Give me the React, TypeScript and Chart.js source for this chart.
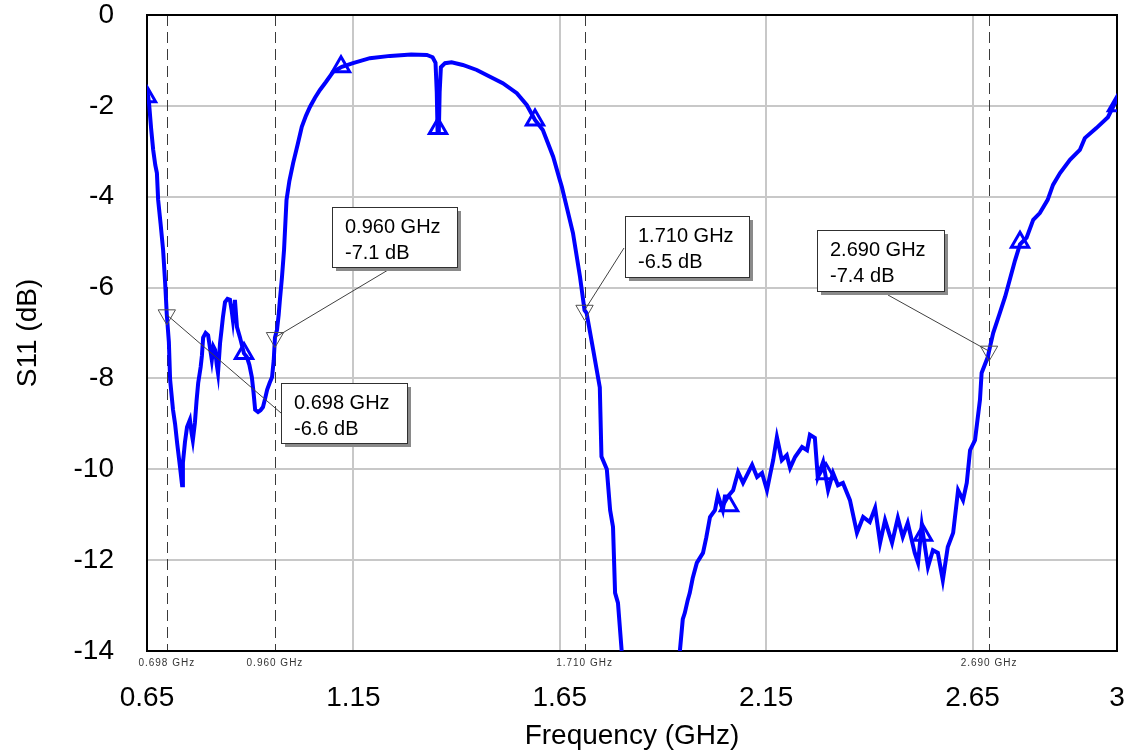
import React, { useEffect, useRef } from "react";
import { Chart, registerables } from "chart.js";

Chart.register(...registerables);

const FONT = "'Liberation Sans', Arial, Helvetica, sans-serif";

// ---- S11 trace (GHz, dB) ----
const freqGHz = [
  0.65, 0.655, 0.66, 0.665, 0.67, 0.674, 0.677, 0.683, 0.689, 0.694,
  0.698, 0.703, 0.706, 0.713, 0.718, 0.723, 0.73, 0.735, 0.737, 0.742,
  0.747, 0.754, 0.758, 0.761, 0.766, 0.77, 0.774, 0.78, 0.783, 0.786,
  0.792, 0.798, 0.803, 0.807, 0.811, 0.815, 0.819, 0.822, 0.827, 0.831,
  0.834, 0.839, 0.845, 0.851, 0.855, 0.858, 0.861, 0.863, 0.868, 0.875,
  0.885, 0.892, 0.898, 0.904, 0.908, 0.912, 0.919, 0.925, 0.931, 0.936,
  0.941, 0.947, 0.953, 0.957, 0.96, 0.965, 0.969, 0.972, 0.977, 0.982,
  0.988, 0.995, 1.004, 1.015, 1.025, 1.035, 1.045, 1.057, 1.069, 1.083,
  1.101, 1.122, 1.149, 1.19, 1.239, 1.29, 1.328, 1.342, 1.349, 1.352,
  1.354, 1.357, 1.359, 1.362, 1.372, 1.388, 1.415, 1.449, 1.481, 1.512,
  1.546, 1.57, 1.59, 1.609, 1.634, 1.65, 1.655, 1.682, 1.699, 1.71,
  1.715, 1.731, 1.747, 1.751, 1.764, 1.772, 1.779, 1.784, 1.791, 1.8,
  1.83, 1.87, 1.92, 1.941, 1.948, 1.953, 1.96, 1.965, 1.972, 1.982,
  1.997, 2.005, 2.014, 2.026, 2.033, 2.045, 2.05, 2.057, 2.07, 2.082,
  2.094, 2.105, 2.116, 2.128, 2.14, 2.152, 2.16, 2.167, 2.176, 2.188,
  2.2, 2.208, 2.22, 2.237, 2.249, 2.256, 2.268, 2.275, 2.288, 2.3,
  2.312, 2.324, 2.336, 2.353, 2.37, 2.385, 2.401, 2.414, 2.426, 2.438,
  2.455, 2.469, 2.481, 2.493, 2.51, 2.518, 2.527, 2.542, 2.554, 2.566,
  2.578, 2.59, 2.603, 2.615, 2.627, 2.636, 2.644, 2.656, 2.668, 2.672,
  2.687, 2.69, 2.7, 2.716, 2.729, 2.741, 2.753, 2.765, 2.781, 2.797,
  2.813, 2.832, 2.845, 2.862, 2.886, 2.91, 2.922, 2.95, 2.978, 3.0,
];
const s11dB = [
  -1.6, -1.95, -2.5, -2.97, -3.3, -3.48, -4.07, -4.6, -5.17, -5.9,
  -6.6, -7.2, -8.03, -8.69, -9.0, -9.42, -9.95, -10.35, -9.86, -9.4,
  -9.07, -8.91, -9.2, -9.36, -8.98, -8.5, -8.1, -7.75, -7.5, -7.1,
  -7.0, -7.05, -7.35, -7.59, -7.3, -7.37, -7.7, -7.88, -7.22, -6.9,
  -6.65, -6.32, -6.25, -6.27, -6.5, -6.71, -6.4, -6.27, -6.87, -7.09,
  -7.45, -7.53, -7.7, -7.97, -8.3, -8.69, -8.74, -8.7, -8.63, -8.45,
  -8.25, -8.1, -7.97, -7.6, -7.1, -6.93, -6.6, -6.27, -5.77, -5.17,
  -4.07, -3.65, -3.26, -2.85, -2.46, -2.22, -2.02, -1.82, -1.65, -1.48,
  -1.25, -1.14, -1.06, -0.95, -0.9, -0.87, -0.88, -0.93, -1.05, -1.7,
  -2.6, -2.6, -1.7, -1.15, -1.06, -1.04, -1.1, -1.21, -1.36, -1.5,
  -1.72, -1.98, -2.31, -2.53, -3.12, -3.63, -3.78, -4.8, -5.76, -6.5,
  -6.56, -7.37, -8.2, -9.72, -10.0, -10.9, -11.27, -12.72, -12.94, -14.0,
  -15.5, -16.5, -15.0, -14.0, -13.3, -13.16, -12.88, -12.72, -12.4, -12.06,
  -11.84, -11.5, -11.05, -10.9, -10.57, -10.9, -10.6, -10.6, -10.46, -10.06,
  -10.3, -10.1, -9.9, -10.17, -10.08, -10.46, -10.1, -9.8, -9.29, -9.8,
  -9.69, -9.97, -9.73, -9.51, -9.58, -9.24, -9.31, -10.17, -9.84, -10.46,
  -10.08, -10.35, -10.3, -10.68, -11.4, -11.05, -11.16, -10.85, -11.62, -11.12,
  -11.62, -11.07, -11.49, -11.18, -11.84, -12.06, -11.23, -12.15, -11.78, -11.84,
  -12.44, -11.71, -11.4, -10.46, -10.68, -10.3, -9.58, -9.36, -8.47, -7.88,
  -7.53, -7.4, -7.0, -6.56, -6.2, -5.8, -5.4, -5.05, -4.9, -4.51,
  -4.36, -4.07, -3.74, -3.48, -3.19, -2.97, -2.71, -2.49, -2.25, -1.85,
];

// ---- trace symbols (hollow up-triangles) ----
const symbolFreqGHz = [0.65, 0.885, 1.12, 1.355, 1.59, 2.06, 2.295, 2.53, 2.765, 3.0];
const symbolDb = [-1.8, -7.45, -1.14, -2.5, -2.31, -10.8, -10.1, -11.45, -5.0, -2.0];

// ---- markers ----
const markerFreqGHz = [0.698, 0.96, 1.71, 2.69];
const markerDb = [-6.6, -7.1, -6.5, -7.4];
const markerFreqText = ["0.698 GHz", "0.960 GHz", "1.710 GHz", "2.690 GHz"];
const markerDbText = ["-6.6 dB", "-7.1 dB", "-6.5 dB", "-7.4 dB"];

// ---- axes ----
const xTickValues = [0.65, 1.15, 1.65, 2.15, 2.65, 3];
const xTickLabels = ["0.65", "1.15", "1.65", "2.15", "2.65", "3"];
const yTickValues = [0, -2, -4, -6, -8, -10, -12, -14];
const yTickLabels = ["0", "-2", "-4", "-6", "-8", "-10", "-12", "-14"];
const xTitle = "Frequency (GHz)";
const yTitle = "S11 (dB)";

// ---- annotation box layout (pixels) ----
const BOX_LAYOUT = [
  { left: 281, top: 383, w: 126, h: 60, ax: 0, ay: 30 },
  { left: 332, top: 207, w: 125, h: 60, ax: 56, ay: 63 },
  { left: 625, top: 216, w: 124, h: 61, ax: -1, ay: 32 },
  { left: 817, top: 230, w: 127, h: 61, ax: 71, ay: 65 },
];

const overlayPlugin = {
  id: "overlay",
  beforeDatasetsDraw(chart: any) {
    const { ctx, chartArea, scales } = chart;
    const { left, right, top, bottom } = chartArea;
    const x = scales.x;
    ctx.save();
    ctx.strokeStyle = "#3a3a3a";
    ctx.lineWidth = 1;
    ctx.setLineDash([11, 6]);
    markerFreqGHz.forEach((f) => {
      const px = Math.round(x.getPixelForValue(f)) + 0.5;
      ctx.beginPath();
      ctx.moveTo(px, top);
      ctx.lineTo(px, bottom);
      ctx.stroke();
    });
    ctx.setLineDash([]);
    ctx.strokeStyle = "#000";
    ctx.lineWidth = 2;
    ctx.strokeRect(left, top, right - left, bottom - top);
    ctx.fillStyle = "#333";
    ctx.font = `10px ${FONT}`;
    ctx.textAlign = "center";
    ctx.textBaseline = "middle";
    (ctx as any).letterSpacing = "1px";
    markerFreqGHz.forEach((f, i) => {
      ctx.fillText(markerFreqText[i], x.getPixelForValue(f), bottom + 12);
    });
    ctx.restore();
  },
  afterDatasetsDraw(chart: any) {
    const { ctx, scales } = chart;
    const x = scales.x;
    const y = scales.y;
    ctx.save();
    ctx.strokeStyle = "#404040";
    ctx.lineWidth = 1;
    markerFreqGHz.forEach((f, i) => {
      const b = BOX_LAYOUT[i];
      ctx.beginPath();
      ctx.moveTo(x.getPixelForValue(f), y.getPixelForValue(markerDb[i]));
      ctx.lineTo(b.left + b.ax, b.top + b.ay);
      ctx.stroke();
    });
    markerFreqGHz.forEach((f, i) => {
      const b = BOX_LAYOUT[i];
      ctx.fillStyle = "#8a8a8a";
      ctx.fillRect(b.left + 4, b.top + 4, b.w, b.h);
      ctx.fillStyle = "#ffffff";
      ctx.fillRect(b.left, b.top, b.w, b.h);
      ctx.strokeStyle = "#303030";
      ctx.lineWidth = 1;
      ctx.strokeRect(b.left + 0.5, b.top + 0.5, b.w, b.h);
      ctx.fillStyle = "#000";
      ctx.font = `20px ${FONT}`;
      ctx.textAlign = "left";
      ctx.textBaseline = "middle";
      ctx.fillText(markerFreqText[i], b.left + 13, b.top + 20);
      ctx.fillText(markerDbText[i], b.left + 13, b.top + 46);
    });
    ctx.restore();
  },
};

const zeroPad = (s: any) => {
  s.paddingTop = 0;
  s.paddingBottom = 0;
  s.paddingLeft = 0;
  s.paddingRight = 0;
};

export default function App() {
  const ref = useRef<HTMLCanvasElement | null>(null);

  useEffect(() => {
    if (!ref.current) return;
    const trace = freqGHz.map((f, i) => ({ x: f, y: s11dB[i] }));
    const symbols = symbolFreqGHz.map((f, i) => ({ x: f, y: symbolDb[i] }));
    const markers = markerFreqGHz.map((f, i) => ({ x: f, y: markerDb[i] }));

    const chart = new Chart(ref.current, {
      type: "line",
      data: {
        datasets: [
          {
            label: "markers",
            data: markers,
            showLine: false,
            pointStyle: "triangle",
            rotation: 180,
            pointRadius: 10,
            pointBorderWidth: 1,
            pointBorderColor: "#505050",
            pointBackgroundColor: "rgba(0,0,0,0)",
            order: 0,
          } as any,
          {
            label: "symbols",
            data: symbols,
            showLine: false,
            pointStyle: "triangle",
            pointRadius: 10,
            pointBorderWidth: 3,
            pointBorderColor: "#0000ff",
            pointBackgroundColor: "rgba(0,0,0,0)",
            order: 1,
          } as any,
          {
            label: "S11",
            data: trace,
            borderColor: "#0000ff",
            borderWidth: 4,
            pointRadius: 0,
            tension: 0,
            fill: false,
            order: 2,
          } as any,
        ],
      },
      options: {
        responsive: false,
        animation: false,
        devicePixelRatio: 1,
        layout: { autoPadding: false, padding: { top: 15, right: 14, left: 0, bottom: 0 } },
        plugins: {
          legend: { display: false },
          tooltip: { enabled: false },
        },
        scales: {
          x: {
            type: "linear",
            min: 0.65,
            max: 3,
            afterBuildTicks: (s: any) => {
              s.ticks = xTickValues.map((v) => ({ value: v }));
            },
            afterFit: (s: any) => {
              s.height = 102;
              zeroPad(s);
            },
            grid: { color: "#c8c8c8", lineWidth: 2, drawTicks: false },
            border: { display: false },
            ticks: {
              padding: 33,
              color: "#000",
              font: { family: FONT, size: 28, lineHeight: 1 },
              maxRotation: 0,
              autoSkip: false,
              callback: (v: any) => {
                const i = xTickValues.findIndex((t) => Math.abs(t - Number(v)) < 1e-6);
                return i >= 0 ? xTickLabels[i] : "";
              },
            },
            title: {
              display: true,
              text: xTitle,
              color: "#000",
              font: { family: FONT, size: 28 },
              padding: { top: 0, bottom: 0 },
            },
          },
          y: {
            type: "linear",
            min: -14,
            max: 0,
            afterBuildTicks: (s: any) => {
              s.ticks = yTickValues.map((v) => ({ value: v }));
            },
            afterFit: (s: any) => {
              s.width = 147;
              zeroPad(s);
            },
            grid: { color: "#c8c8c8", lineWidth: 2, drawTicks: false },
            border: { display: false },
            ticks: {
              padding: 33,
              color: "#000",
              font: { family: FONT, size: 28, lineHeight: 1 },
              autoSkip: false,
              callback: (v: any) => {
                const i = yTickValues.findIndex((t) => Math.abs(t - Number(v)) < 1e-6);
                return i >= 0 ? yTickLabels[i] : "";
              },
            },
            title: {
              display: true,
              text: yTitle,
              color: "#000",
              font: { family: FONT, size: 28 },
              padding: { top: 11, bottom: 0 },
            },
          },
        },
      },
      plugins: [overlayPlugin],
    });
    return () => chart.destroy();
  }, []);

  return (
    <div style={{ position: "fixed", left: 0, top: 0, width: 1131, height: 753, background: "#fff" }}>
      <canvas ref={ref} width={1131} height={753} style={{ display: "block" }} />
    </div>
  );
}
